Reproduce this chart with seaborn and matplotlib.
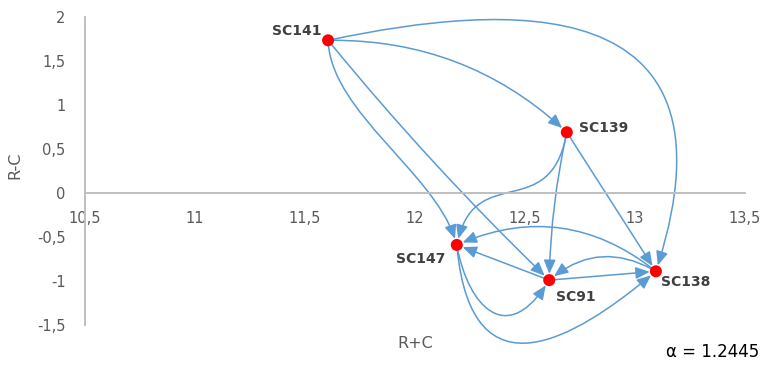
import matplotlib
matplotlib.use("Agg")
import matplotlib.pyplot as plt
from matplotlib.ticker import FuncFormatter
from matplotlib.patches import ConnectionStyle
from matplotlib.path import Path
import seaborn as sns
import pandas as pd
import numpy as np

# nodes: (R+C, R-C)
nodes = ["SC141", "SC139", "SC147", "SC91", "SC138"]
r_plus_c = [11.605, 12.69, 12.19, 12.61, 13.095]
r_minus_c = [1.735, 0.69, -0.59, -0.99, -0.89]

# causal relations (source -> target)
sources = ["SC141", "SC141", "SC141", "SC141", "SC139", "SC139", "SC139",
           "SC138", "SC91", "SC91", "SC138", "SC147", "SC147"]
targets = ["SC139", "SC138", "SC147", "SC91", "SC147", "SC91", "SC138",
           "SC147", "SC147", "SC138", "SC91", "SC91", "SC138"]

alpha_label = "α = 1.2445"


class Cubic(ConnectionStyle._Base):
    # cubic connector: leave A at angleA, enter B from angleB (display coords)
    def __init__(self, angleA, fracA, angleB, fracB):
        self.angleA, self.fracA = angleA, fracA
        self.angleB, self.fracB = angleB, fracB

    def connect(self, posA, posB):
        (x1, y1), (x2, y2) = posA, posB
        d = np.hypot(x2 - x1, y2 - y1)
        a, b = np.radians(self.angleA), np.radians(self.angleB)
        c1 = (x1 + self.fracA * d * np.cos(a), y1 + self.fracA * d * np.sin(a))
        c2 = (x2 + self.fracB * d * np.cos(b), y2 + self.fracB * d * np.sin(b))
        return Path([posA, c1, c2, posB],
                    [Path.MOVETO, Path.CURVE4, Path.CURVE4, Path.CURVE4])


# connector shape of each relation (style only)
conn = {("SC141", "SC139"): "arc3,rad=-0.2",
        ("SC141", "SC138"): Cubic(12, 0.45, 72, 0.75),
        ("SC141", "SC147"): Cubic(-88, 0.3, 105, 0.3),
        ("SC141", "SC91"): "arc3,rad=0.03",
        ("SC139", "SC147"): Cubic(-100, 0.6, 78, 0.55),
        ("SC139", "SC91"): "arc3,rad=0.05",
        ("SC139", "SC138"): "arc3,rad=0",
        ("SC138", "SC147"): "arc3,rad=0.3",
        ("SC91", "SC147"): "arc3,rad=0",
        ("SC91", "SC138"): "arc3,rad=0",
        ("SC138", "SC91"): "arc3,rad=0.35",
        ("SC147", "SC91"): Cubic(-80, 0.62, -122, 0.82),
        ("SC147", "SC138"): Cubic(-85, 0.8, -140, 0.5)}
# label offsets in points, with alignment
lab_pos = {"SC141": (-5, 7, "right"), "SC139": (9, 3, "left"),
           "SC147": (-8, -10, "right"), "SC91": (5, -12, "left"),
           "SC138": (4, -8, "left")}

df = pd.DataFrame({"node": nodes, "RC_plus": r_plus_c, "RC_minus": r_minus_c})
pos = {n: (x, y) for n, x, y in zip(nodes, r_plus_c, r_minus_c)}

sns.set_theme(style="white")
plt.rcParams["font.family"] = ["DejaVu Sans"]
plt.rcParams["axes.unicode_minus"] = False

fig = plt.figure(figsize=(7.62, 3.65), dpi=100)
ax = fig.add_axes([85 / 762, 1 - 325 / 365, 660 / 762, 308 / 365])
ax.set_xlim(10.5, 13.5)
ax.set_ylim(-1.5, 2)

blue = "#5B9BD5"
for s, t in zip(sources, targets):
    ax.annotate("", xy=pos[t], xytext=pos[s],
                arrowprops=dict(arrowstyle="-|>,head_length=0.7,head_width=0.3",
                                color=blue, lw=1.1, shrinkA=3, shrinkB=4.5,
                                connectionstyle=conn[(s, t)]),
                zorder=2)

sns.scatterplot(data=df, x="RC_plus", y="RC_minus", ax=ax, color="#FF0000",
                s=75, edgecolor="none", zorder=3, legend=False)

for n in nodes:
    dx, dy, ha = lab_pos[n]
    ax.annotate(n, xy=pos[n], xytext=(dx, dy), textcoords="offset points",
                ha=ha, va="center", fontsize=10, fontweight="bold", color="#404040")

ax.set_xticks([10.5, 11, 11.5, 12, 12.5, 13, 13.5])
ax.set_yticks([-1.5, -1, -0.5, 0, 0.5, 1, 1.5, 2])
fmt = FuncFormatter(lambda v, p: f"{v:g}".replace(".", ","))
ax.xaxis.set_major_formatter(fmt)
ax.yaxis.set_major_formatter(fmt)
ax.tick_params(length=0, labelsize=10.5, labelcolor="#595959")
ax.tick_params(axis="x", pad=13)
ax.tick_params(axis="y", pad=14)

for sp in ["top", "right"]:
    ax.spines[sp].set_visible(False)
ax.spines["bottom"].set_position(("data", 0))
for sp in ["left", "bottom"]:
    ax.spines[sp].set_color("#BFBFBF")
    ax.spines[sp].set_linewidth(1.4)
ax.grid(False)

ax.set_xlabel("R+C", fontsize=11.5, color="#595959")
ax.xaxis.set_label_coords(0.5, -0.035)
ax.set_ylabel("R-C", fontsize=11.5, color="#595959")
ax.yaxis.set_label_coords(-0.095, 0.52)

fig.text(0.996, 1 - 352 / 365, alpha_label, ha="right", va="center",
         fontsize=12, color="black")

fig.savefig("out.png", dpi=100)
